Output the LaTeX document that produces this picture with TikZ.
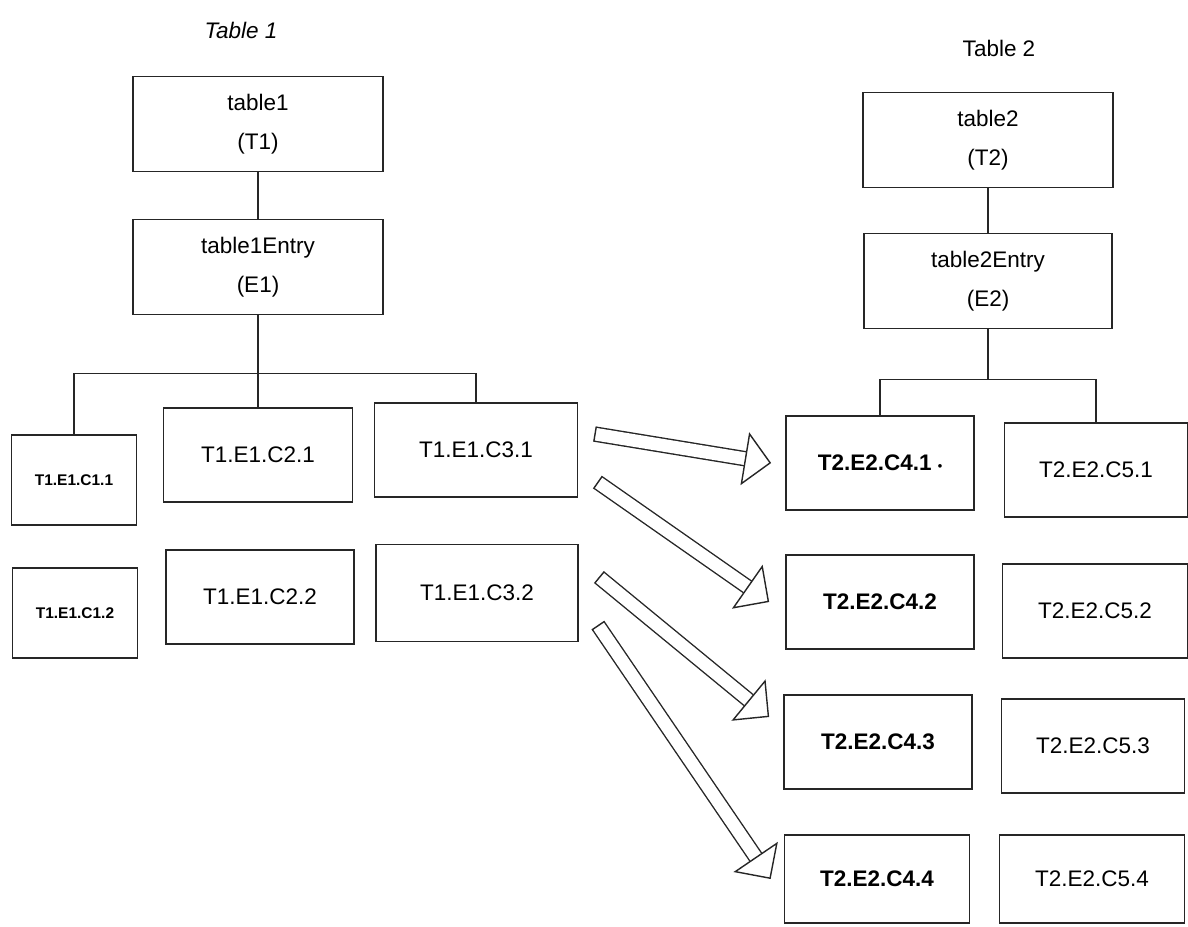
\documentclass[tikz,border=0pt]{standalone}
\usepackage{fontspec}
\setmainfont{Liberation Sans}
\usetikzlibrary{arrows.meta,calc}

\begin{document}
\begin{tikzpicture}[
  x=0.25mm, y=-0.25mm,
  font=\fontsize{16}{19}\selectfont,
  box/.style={draw=black!85, line width=1.2pt, align=center, minimum width=62.5mm, minimum height=23.75mm, font=\fontsize{16}{28}\selectfont},
  cell/.style={draw=black!85, line width=1.2pt, minimum width=47mm, minimum height=23.5mm},
  thin/.style={cell, minimum width=31.25mm, minimum height=22.5mm, font=\fontsize{11}{13}\selectfont\bfseries},
  key/.style={cell, font=\fontsize{16}{19}\selectfont\bfseries},
  link/.style={draw=black!85, line width=1pt},
  hollow/.style={draw=black!85, line width=1pt, double=white, double distance=9pt,
    {Bar[width=11pt, line width=1pt]}-{Triangle[open, length=19pt, width=38pt, line width=1pt]}}
]
\useasboundingbox (0,0) rectangle (1188,926);

% first table: table, entry and its columns
\node[font=\fontsize{16}{19}\selectfont\itshape] (tab1) at (241,30) {Table 1};
\node[box] (t1) at (258,124) {table1\\(T1)};
\node[box] (e1) at (258,267) {table1Entry\\(E1)};

\node[thin] (c11) at (74,480) {T1.E1.C1.1};
\node[cell, minimum width=47.25mm] (c21) at (258,455) {T1.E1.C2.1};
\node[cell, minimum width=50.75mm] (c31) at (476,450) {T1.E1.C3.1};
\node[thin] (c12) at (75,613) {T1.E1.C1.2};
\node[cell] (c22) at (260,597) {T1.E1.C2.2};
\node[cell, minimum width=50.5mm, minimum height=24.25mm] (c32) at (477,593) {T1.E1.C3.2};

\draw[link] (t1) -- (e1);
\coordinate (fork1) at ($(e1.south)+(0,58)$);
\draw[link] (e1.south) -- (c21.north);
\draw[link] (c11.north) |- (fork1) -| (c31.north);

% second table
\node (tab2) at (999,48) {Table 2};
\node[box] (t2) at (988,140) {table2\\(T2)};
\node[box, minimum width=62mm] (e2) at (988,281) {table2Entry\\(E2)};

\node[key] (c41) at (880,463) {T2.E2.C4.1 {\fontsize{9}{9}\selectfont •}};
\node[cell, minimum width=45.75mm] (c51) at (1096,470) {T2.E2.C5.1};
\node[key] (c42) at (880,602) {T2.E2.C4.2};
\node[cell, minimum width=46.25mm] (c52) at (1095,611) {T2.E2.C5.2};
\node[key] (c43) at (878,742) {T2.E2.C4.3};
\node[cell, minimum width=45.75mm] (c53) at (1093,746) {T2.E2.C5.3};
\node[key, minimum width=46.25mm, minimum height=22mm] (c44) at (877,879) {T2.E2.C4.4};
\node[cell, minimum width=46.25mm, minimum height=22mm] (c54) at (1092,879) {T2.E2.C5.4};

\draw[link] (t2) -- (e2);
\coordinate (fork2) at ($(e2.south)+(0,50)$);
\draw[link] (e2.south) -- (fork2);
\draw[link] (c41.north) |- (fork2) -| (c51.north);

% column 3 values carried over to column 4
\draw[hollow] ($(c31.east)+(16,-16)$) -- ($(c41.west)+(-14,0)$);
\draw[hollow] ($(c31.east)+(19,32)$) -- ($(c42.west)+(-16,0)$);
\draw[hollow] ($(c32.east)+(20,-16)$) -- ($(c43.west)+(-14,-25)$);
\draw[hollow] ($(c32.east)+(19,32)$) -- ($(c44.west)+(-13,0)$);
\end{tikzpicture}
\end{document}
